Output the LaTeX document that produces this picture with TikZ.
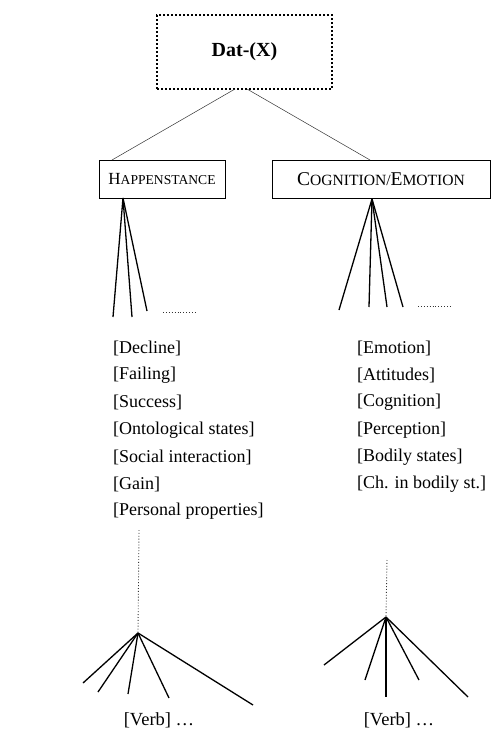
\documentclass[tikz,border=0pt]{standalone}
\usepackage{fontspec}
\setmainfont{Liberation Serif}
\begin{document}
\begin{tikzpicture}[x=1pt,y=-1pt,
  thinline/.style={line width=0.5pt, black!80},
  fanline/.style={line width=1.3pt, black},
  dotline/.style={line width=0.9pt, dotted, black!80},
  catbox/.style={draw, line width=1pt, minimum height=38pt, inner sep=0pt},
  item/.style={anchor=west, inner sep=0pt, font=\fontsize{18}{18}\selectfont},
  verb/.style={inner sep=0pt, font=\fontsize{18.5}{18.5}\selectfont}]
\useasboundingbox (0,0) rectangle (493,731);
% top box
\node[draw, line width=2pt, dotted, minimum width=175pt, minimum height=74pt, inner sep=0pt,
  font=\fontsize{20}{20}\selectfont\bfseries] (top) at (244.5,52) {Dat-(X)};
% category boxes
\node[catbox, minimum width=126pt] (hap) at (162,179) {\fontsize{17}{17}\selectfont H\fontsize{13.6}{13.6}\selectfont APPENSTANCE};
\node[catbox, minimum width=218pt] (cog) at (381,179) {\fontsize{19.5}{19.5}\selectfont C\fontsize{15.6}{15.6}\selectfont OGNITION/\fontsize{19.5}{19.5}\selectfont E\fontsize{15.6}{15.6}\selectfont MOTION};
\coordinate (tl) at (235,89);
\coordinate (tr) at (247,89);
\coordinate (hl) at (112,160);
\coordinate (cr) at (370,160);
\draw[thinline] (tl) -- (hl);
\draw[thinline] (tr) -- (cr);
% left fan
\coordinate (la) at (123,198);
\coordinate (l1) at (113,317);
\coordinate (l2) at (132,317);
\coordinate (l3) at (147,311);
\draw[fanline] (la) -- (l1);
\draw[fanline] (la) -- (l2);
\draw[fanline] (la) -- (l3);
\coordinate (ld1) at (163,312);
\coordinate (ld2) at (196,312);
\draw[dotline] (ld1) -- (ld2);
% right fan
\coordinate (ra) at (372,199);
\coordinate (r1) at (339,310);
\coordinate (r2) at (369,307);
\coordinate (r3) at (387,307);
\coordinate (r4) at (403,307);
\draw[fanline] (ra) -- (r1);
\draw[fanline] (ra) -- (r2);
\draw[fanline] (ra) -- (r3);
\draw[fanline] (ra) -- (r4);
\coordinate (rd1) at (418,306);
\coordinate (rd2) at (452,306);
\draw[dotline] (rd1) -- (rd2);
% left list
\node[item] (a1) at (113,348) {[Decline]};
\node[item] (a2) at (113,375) {[Failing]};
\node[item] (a3) at (113,402) {[Success]};
\node[item] (a4) at (113,430) {[Ontological states]};
\node[item] (a5) at (113,457) {[Social interaction]};
\node[item] (a6) at (113,484) {[Gain]};
\node[item] (a7) at (113,511) {[Personal properties]};
% right list
\node[item] (b1) at (357,348) {[Emotion]};
\node[item] (b2) at (357,375) {[Attitudes]};
\node[item] (b3) at (357,402) {[Cognition]};
\node[item] (b4) at (357,430) {[Perception]};
\node[item] (b5) at (357,457) {[Bodily states]};
\node[item] (b6) at (357,484) {[Ch. in bodily st.]};
% bottom left
\coordinate (lv) at (139,530);
\coordinate (lb) at (138,633);
\draw[dotline] (lv) -- (lb);
\coordinate (lb1) at (83,683);
\coordinate (lb2) at (98,692);
\coordinate (lb3) at (128,694);
\coordinate (lb4) at (169,698);
\coordinate (lb5) at (253,705);
\foreach \e in {lb1,lb2,lb3,lb4,lb5} \draw[fanline] (lb) -- (\e);
\node[verb] (lverb) at (159,720) {[Verb] \dots};
% bottom right
\coordinate (rv) at (387,560);
\coordinate (rb) at (386,617);
\draw[dotline] (rv) -- (rb);
\coordinate (rb1) at (324,665);
\coordinate (rb2) at (365,680);
\coordinate (rb3) at (386,697);
\coordinate (rb4) at (419,680);
\coordinate (rb5) at (468,697);
\foreach \e in {rb1,rb2,rb3,rb4,rb5} \draw[fanline] (rb) -- (\e);
\node[verb] (rverb) at (399,720) {[Verb] \dots};
\end{tikzpicture}
\end{document}
